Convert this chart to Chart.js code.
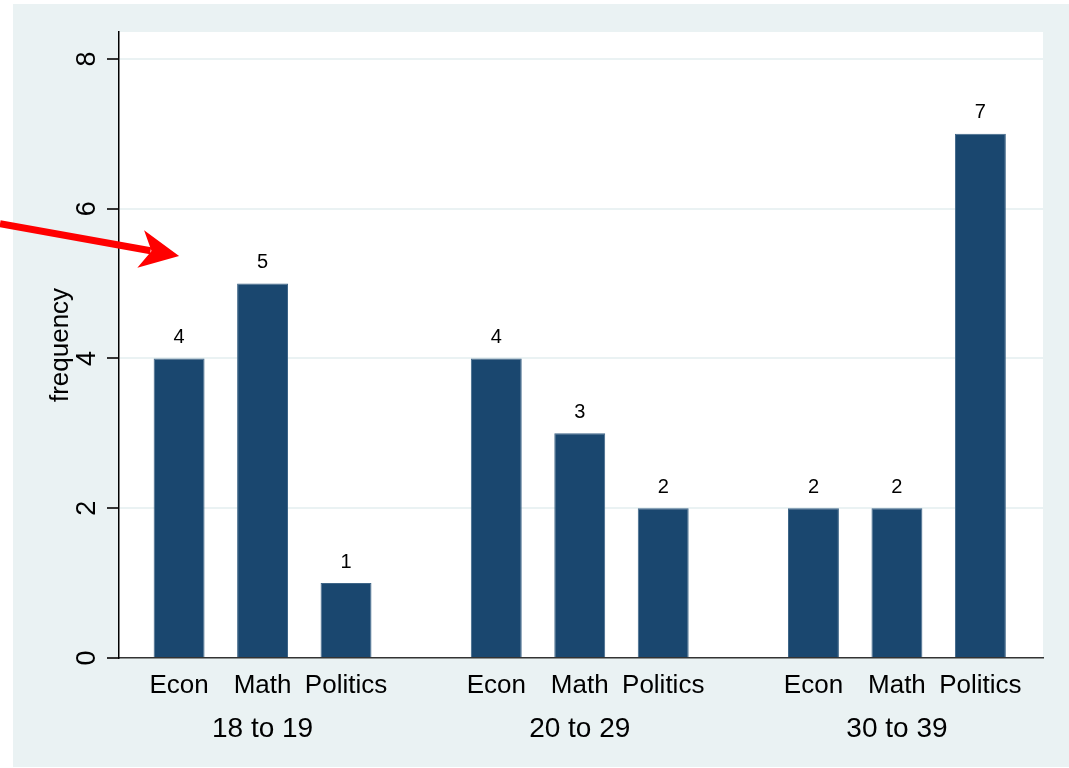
<!DOCTYPE html>
<html>
<head>
<meta charset="utf-8">
<script src="https://cdn.jsdelivr.net/npm/chart.js@4/dist/chart.umd.min.js"></script>
<style>
  body { margin: 0; background: #fff; }
  #wrap { width: 1069px; height: 768px; }
</style>
</head>
<body>
<div id="wrap"><canvas id="grafico" width="1069" height="768"></canvas></div>
<script>
// dados
const grupos = ["18 to 19", "20 to 29", "30 to 39"];
const materias = ["Econ", "Math", "Politics"];
const econ = [4, 4, 2];
const math = [5, 3, 2];
const politics = [1, 2, 7];
const yTicks = [0, 2, 4, 6, 8];

const series = [econ, math, politics];
const FONTE = "'Liberation Sans', Arial, sans-serif";
const PAINEL = "#EAF2F3";
const GAP_GRUPO = 3.8; // distancia entre grupos, em larguras de barra

// monta os pontos (x = posicao dentro do eixo, y = frequencia)
const pontos = [];
const rotulos = [];
grupos.forEach(function (g, gi) {
    materias.forEach(function (m, mi) {
        pontos.push({ x: gi * GAP_GRUPO + mi, y: series[mi][gi] });
        rotulos.push(m);
    });
});

const decor = {
    id: "decor",
    beforeDraw(chart) {
        const c = chart.ctx;
        const a = chart.chartArea;
        c.save();
        c.fillStyle = "#fff";
        c.fillRect(0, 0, chart.width, chart.height);
        c.fillStyle = PAINEL;
        c.fillRect(13, 4, chart.width - 13, chart.height - 5);
        c.fillStyle = "#fff";
        c.fillRect(a.left, a.top, a.right - a.left, a.bottom - a.top);
        c.restore();
    },
    afterDraw(chart) {
        const c = chart.ctx;
        const xs = chart.scales.x;
        const ys = chart.scales.y;
        c.save();
        c.fillStyle = "#000";
        c.textAlign = "center";
        c.textBaseline = "middle";

        // rotulos do eixo y, girados
        c.font = "27px " + FONTE;
        yTicks.forEach(function (t) {
            c.save();
            c.translate(88, ys.getPixelForValue(t));
            c.rotate(-Math.PI / 2);
            c.fillText(String(t), 0, 0);
            c.restore();
        });

        // titulo do eixo y
        c.font = "26px " + FONTE;
        c.save();
        c.translate(61, (chart.chartArea.top + chart.chartArea.bottom) / 2);
        c.rotate(-Math.PI / 2);
        c.fillText("frequency", 0, 0);
        c.restore();

        // nomes dos grupos
        c.font = "28px " + FONTE;
        grupos.forEach(function (g, gi) {
            c.fillText(g, xs.getPixelForValue(gi * GAP_GRUPO + 1), 729);
        });

        // valores em cima das barras
        c.font = "20px " + FONTE;
        chart.getDatasetMeta(0).data.forEach(function (bar, i) {
            c.fillText(String(pontos[i].y), bar.x, bar.y - 21);
        });

        // seta vermelha
        const x1 = 0, y1 = ys.getPixelForValue(5.8);
        const x2 = xs.getPixelForValue(pontos[0].x), y2 = ys.getPixelForValue(5.37);
        const ang = Math.atan2(y2 - y1, x2 - x1);
        const comp = 37, meia = 19;
        const cs = Math.cos(ang), sn = Math.sin(ang);
        const bx = x2 - comp * cs, by = y2 - comp * sn;
        c.strokeStyle = "#FF0000";
        c.fillStyle = "#FF0000";
        c.lineWidth = 7;
        c.beginPath();
        c.moveTo(x1, y1);
        c.lineTo(bx + 8 * cs, by + 8 * sn);
        c.stroke();
        c.beginPath();
        c.moveTo(x2, y2);
        c.lineTo(bx + meia * sn - 2 * cs, by - meia * cs - 2 * sn);
        c.lineTo(bx + 9 * cs, by + 9 * sn);
        c.lineTo(bx - meia * sn - 2 * cs, by + meia * cs - 2 * sn);
        c.closePath();
        c.fill();
        c.restore();
    }
};

new Chart(document.getElementById("grafico").getContext("2d"), {
    type: "bar",
    data: {
        datasets: [{
            data: pontos,
            backgroundColor: "#1A476F",
            borderColor: "#3F6688",
            borderWidth: 1,
            categoryPercentage: 1,
            barPercentage: 0.61
        }]
    },
    options: {
        responsive: false,
        animation: false,
        events: [],
        layout: { padding: { left: 0, top: 32, right: 26, bottom: 0 } },
        plugins: { legend: { display: false }, tooltip: { enabled: false } },
        scales: {
            x: {
                type: "linear",
                offset: false,
                min: -0.72,
                max: 2 * GAP_GRUPO + 2 + 0.75,
                afterBuildTicks: function (s) {
                    s.ticks = pontos.map(function (p) { return { value: p.x }; });
                },
                afterFit: function (s) { s.height = 110; },
                grid: { display: false, drawTicks: false, offset: false },
                border: { color: "#333", width: 1.5 },
                ticks: {
                    autoSkip: false,
                    maxRotation: 0,
                    padding: 12,
                    color: "#000",
                    font: { family: FONTE, size: 26 },
                    callback: function (v, i) { return rotulos[i]; }
                }
            },
            y: {
                min: 0,
                max: 8.36,
                afterBuildTicks: function (s) {
                    s.ticks = yTicks.map(function (v) { return { value: v }; });
                },
                afterFit: function (s) { s.width = 119; },
                grid: {
                    color: function (ctx) { return ctx.tick && ctx.tick.value === 0 ? "rgba(0,0,0,0)" : PAINEL; },
                    lineWidth: 2,
                    tickColor: "#333",
                    tickLength: 12
                },
                border: { color: "#000", width: 1.5 },
                ticks: { display: false }
            }
        }
    },
    plugins: [decor]
});
</script>
</body>
</html>
